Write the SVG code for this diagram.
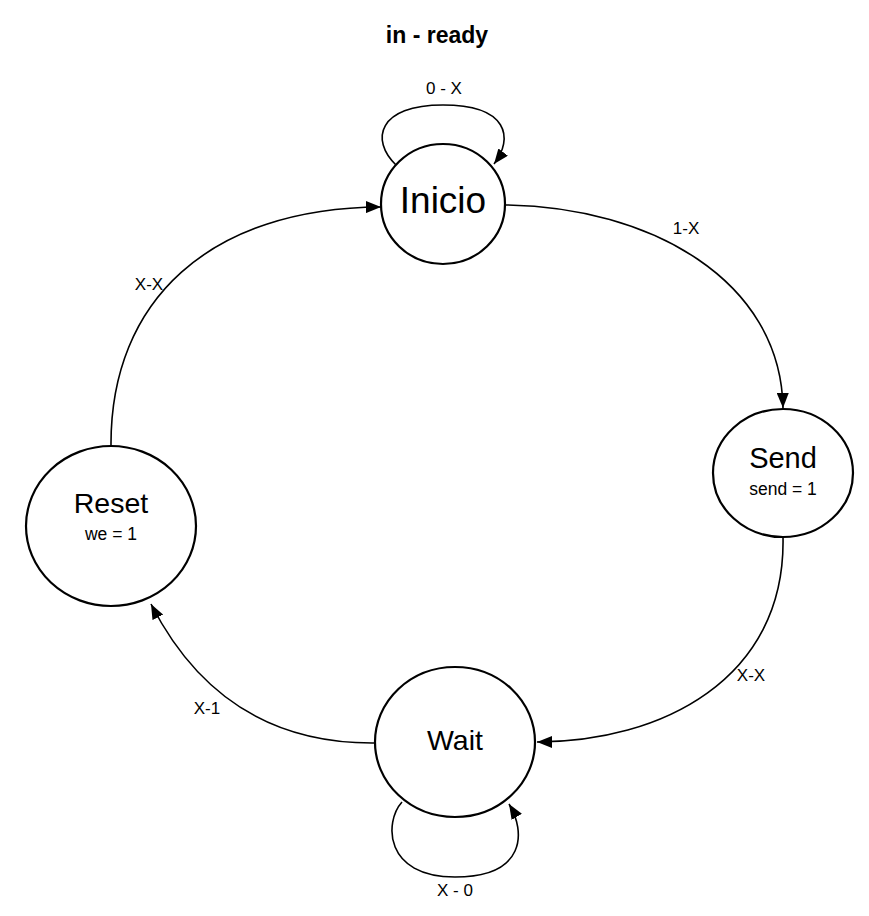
<svg xmlns="http://www.w3.org/2000/svg" width="869" height="916" viewBox="0 0 869 916">
<style>
.node{fill:#fff;stroke:#000;stroke-width:2.2}
.edge{fill:none;stroke:#000;stroke-width:1.6}
.t{font-family:"Liberation Sans",Arial,sans-serif;fill:#000;text-anchor:middle}
.lbl{font-size:17px}
</style>
<defs>
<marker id="arr" markerUnits="userSpaceOnUse" markerWidth="16" markerHeight="12" refX="15" refY="6" orient="auto">
<path d="M0,0 L15,6 L0,12 Z" fill="#000"/>
</marker>
</defs>
<rect width="869" height="916" fill="#fff"/>
<text class="t" x="437" y="43" font-size="23" font-weight="bold">in - ready</text>
<g id="connectors">
<path class="edge" d="M506,205 C650,207 781,280 783,408" marker-end="url(#arr)"/>
<path class="edge" d="M783,537 C786,680 660,742 537,742" marker-end="url(#arr)"/>
<path class="edge" d="M375,743 C265,744 195,690 151,604" marker-end="url(#arr)"/>
<path class="edge" d="M111,446 C110,300 210,208 381,207" marker-end="url(#arr)"/>
<path class="edge" d="M396,165 C370,140 378,105 443,105 C508,105 514,138 494,164" marker-end="url(#arr)"/>
<path class="edge" d="M402,802 C384,822 384,877 455,877 C526,877 526,832 509,804" marker-end="url(#arr)"/>
<text class="t lbl" x="686" y="234">1-X</text>
<text class="t lbl" x="751" y="681">X-X</text>
<text class="t lbl" x="207" y="714">X-1</text>
<text class="t lbl" x="149" y="290">X-X</text>
<text class="t lbl" x="444" y="94">0 - X</text>
<text class="t lbl" x="455" y="896">X - 0</text>
</g>
<g id="inicio">
<ellipse class="node" cx="443" cy="204" rx="62" ry="60"/>
<text class="t" x="443" y="213" font-size="37">Inicio</text>
</g>
<g id="send">
<ellipse class="node" cx="783" cy="473" rx="70" ry="64"/>
<text class="t" x="783" y="468" font-size="29">Send</text>
<text class="t" x="783" y="495" font-size="17.5">send = 1</text>
</g>
<g id="wait">
<ellipse class="node" cx="455" cy="742" rx="80" ry="75"/>
<text class="t" x="455" y="750" font-size="28.5">Wait</text>
</g>
<g id="reset">
<ellipse class="node" cx="111" cy="526" rx="85" ry="80"/>
<text class="t" x="111" y="513" font-size="28.5">Reset</text>
<text class="t" x="111" y="540" font-size="17.5">we = 1</text>
</g>
</svg>
